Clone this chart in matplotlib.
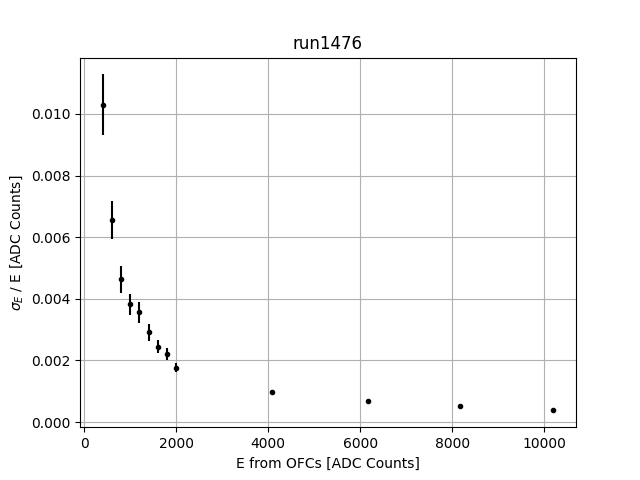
import matplotlib
matplotlib.use("Agg")
import matplotlib.pyplot as plt

# energie (ADC) et resolution relative
energies = [400, 600, 800, 1000, 1200, 1400, 1600, 1800, 2000, 4090, 6170, 8175, 10200]
resolution = [0.0103, 0.00655, 0.00463, 0.00382, 0.00356, 0.00291, 0.00245, 0.00222, 0.00177,
              0.00099, 0.00070, 0.00053, 0.00040]
res_err = [0.00098, 0.00061, 0.00044, 0.00035, 0.00034, 0.00027, 0.00022, 0.00020, 0.00015,
           0.00004, 0.00003, 0.00002, 0.00002]

fig = plt.figure(figsize=(6.4, 4.8), dpi=100)
plt.errorbar(energies, resolution, yerr=res_err, fmt="k.")
plt.title("run1476")
plt.xlabel("E from OFCs [ADC Counts]")
plt.ylabel(r"$\sigma_E$ / E [ADC Counts]")
plt.grid(True)
fig.savefig("out.png")
